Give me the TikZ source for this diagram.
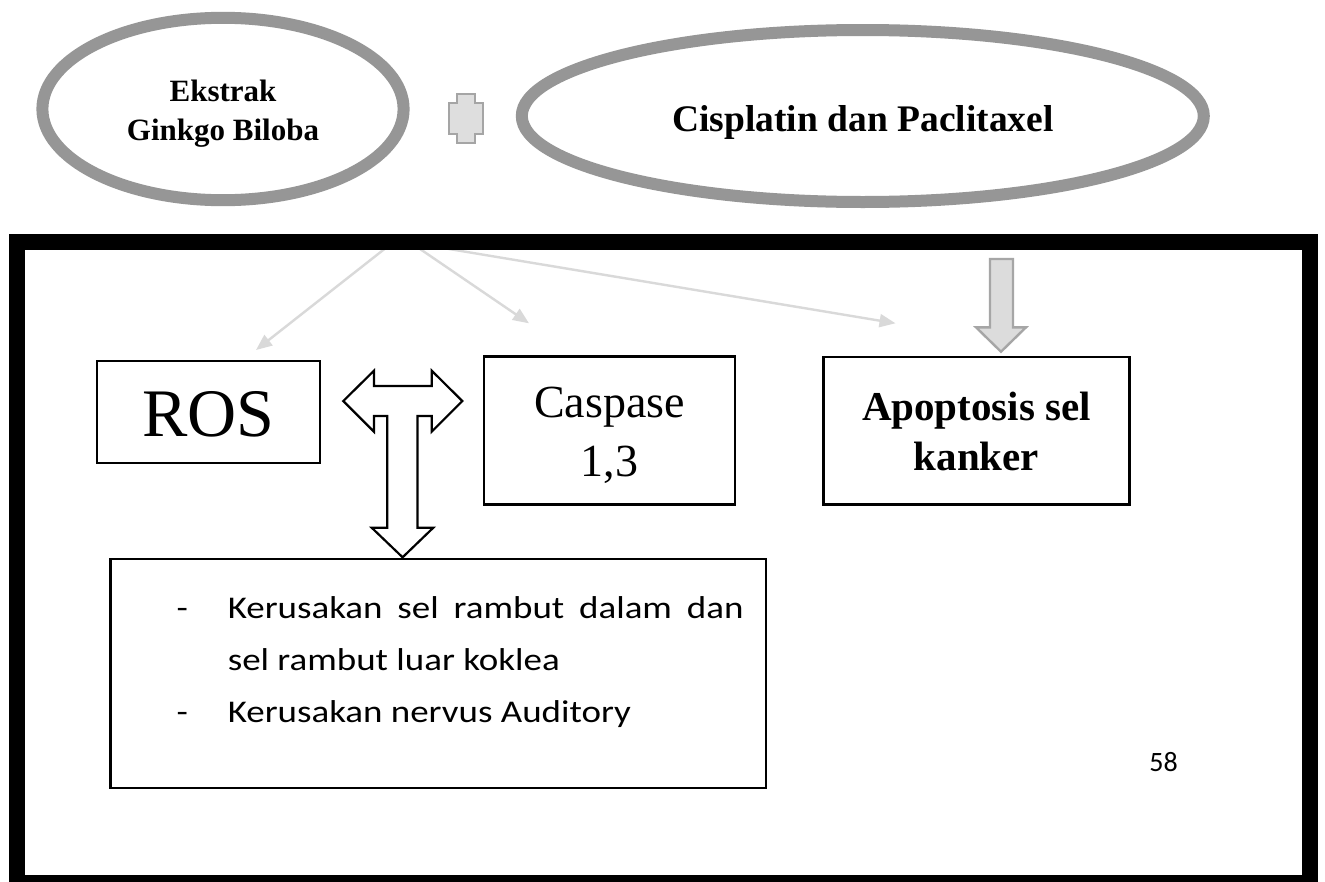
\documentclass[tikz,border=0pt]{standalone}
\usepackage{fontspec}
\setmainfont{Liberation Serif}
\newfontfamily\calfont[FakeStretch=1.17]{Carlito}
\newfontfamily\calplain{Carlito}
\usetikzlibrary{arrows.meta,shapes.geometric}

\definecolor{ringgray}{RGB}{150,150,150}
\definecolor{plusfill}{RGB}{222,222,222}
\definecolor{plusline}{RGB}{165,165,165}
\definecolor{faint}{RGB}{217,217,217}
\definecolor{blockfill}{RGB}{220,220,220}
\definecolor{blockline}{RGB}{166,166,166}

\tikzset{
  ring/.style={ellipse, draw=ringgray, line width=12pt, inner sep=0pt, outer sep=0pt},
  lbl/.style={inner sep=0pt, outer sep=0pt, anchor=base},
  boxnode/.style={draw=black, line width=2.2pt, fill=white, inner sep=0pt, outer sep=0pt},
  faintarrow/.style={draw=faint, line width=2.4pt,
    -{Triangle[length=16pt,width=13pt]}},
  blockarrow/.style={draw=blockline, fill=blockfill, line width=2.4pt, line join=miter},
  hollowarrow/.style={draw=black, fill=white, line width=2.2pt, line join=miter},
}

\begin{document}
\begin{tikzpicture}[x=1pt,y=-1pt]
\useasboundingbox (0,0) rectangle (1325,881);
\clip (0,0) rectangle (1325,881);
\fill[white] (0,0) rectangle (1325,881);

% top: the two ingredients and the plus sign
\node[ring, minimum width=361.2pt, minimum height=182.4pt] (ginkgo) at (223,109) {};
\node[ring, minimum width=682pt, minimum height=172pt] (drugs) at (862.8,116) {};
\node[lbl, font=\bfseries\fontsize{31}{38}\selectfont] (ginkgoA) at (223,101.7) {Ekstrak};
\node[lbl, font=\bfseries\fontsize{31}{38}\selectfont] (ginkgoB) at (223,140) {Ginkgo Biloba};
\node[lbl, font=\bfseries\fontsize{37.5}{45}\selectfont] (drugtxt) at (863,131.7) {Cisplatin dan Paclitaxel};

\draw[draw=plusline, fill=plusfill, line width=2pt]
  (457,94) -- (475,94) -- (475,103) -- (483,103) -- (483,134) -- (475,134)
  -- (475,143) -- (457,143) -- (457,134) -- (449,134) -- (449,103) -- (457,103) -- cycle;

% faint pointers coming out from under the frame
\coordinate (srcA) at (401,236);
\coordinate (srcB) at (383,238);
\coordinate (tipRos) at (256,350);
\coordinate (tipCas) at (529,323.3);
\coordinate (tipApo) at (895.5,323.3);
\draw[faintarrow] (srcA) -- (tipRos);
\draw[faintarrow] (srcA) -- (tipCas);
\draw[faintarrow] (srcB) -- (tipApo);

% heavy frame
\draw[line width=16pt, black] (17,242) rectangle (1309.5,883);

% boxes
\node[boxnode, minimum width=223.3pt, minimum height=102pt] (ros) at (208.65,412) {};
\node[lbl, font=\fontsize{68}{80}\selectfont] (rostxt) at (208.6,436) {ROS};

\node[boxnode, minimum width=251pt, minimum height=148pt] (cas) at (609.5,430.5) {};
\node[lbl, font=\fontsize{46}{55}\selectfont] (castxtA) at (609.5,417.3) {Caspase};
\node[lbl, font=\fontsize{46}{55}\selectfont] (castxtB) at (609.5,476.7) {1,3};

\node[boxnode, minimum width=306pt, minimum height=147.5pt] (apo) at (976.5,430.75) {};
\node[lbl, font=\bfseries\fontsize{41}{49}\selectfont] (apotxtA) at (976.5,420.7) {Apoptosis sel};
\node[lbl, font=\bfseries\fontsize{41}{49}\selectfont] (apotxtB) at (976.5,470) {kanker};

\node[boxnode, minimum width=655.4pt, minimum height=229pt] (dmg) at (438.2,673.8) {};
\node[lbl, anchor=base west, font=\calfont\fontsize{31.6}{38}\selectfont] (dashA) at (176.5,618) {-};
\node[lbl, anchor=base west, font=\calfont\fontsize{31.6}{38}\selectfont] (dmgA) at (227.8,618)
  {\makebox[515.7pt][s]{Kerusakan sel rambut dalam dan}};
\node[lbl, anchor=base west, font=\calfont\fontsize{31.6}{38}\selectfont] (dmgB) at (227.8,670)
  {sel rambut luar koklea};
\node[lbl, anchor=base west, font=\calfont\fontsize{31.6}{38}\selectfont] (dashB) at (176.5,722) {-};
\node[lbl, anchor=base west, font=\calfont\fontsize{31.6}{38}\selectfont] (dmgC) at (227.8,722)
  {Kerusakan nervus Auditory};

\node[lbl, font=\calplain\fontsize{28}{34}\selectfont] (page) at (1163.5,771.7) {58};

% grey block arrow into the apoptosis box
\draw[blockarrow]
  (990,259) -- (1013,259) -- (1013,327.3) -- (1026,327.3) -- (1001,351.7)
  -- (976,327.3) -- (990,327.3) -- cycle;

% hollow T-shaped double arrow between ROS, caspase and the damage box
\draw[hollowarrow]
  (343.3,401) -- (374,370.7) -- (374,386) -- (431.7,386) -- (431.7,370.7)
  -- (462.3,401) -- (431.7,431.7) -- (431.7,416) -- (417.5,416)
  -- (417.5,527.7) -- (433.3,527.7) -- (402.6,557.3) -- (371.7,527.7)
  -- (387.3,527.7) -- (387.3,416) -- (374,416) -- (374,431.7) -- cycle;
\end{tikzpicture}
\end{document}
